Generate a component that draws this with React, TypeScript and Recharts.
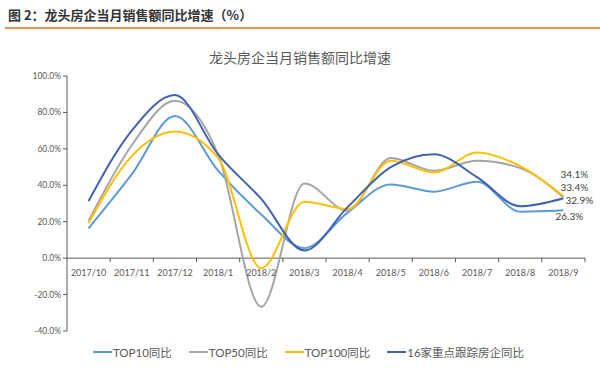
import { LineChart, Line, XAxis, YAxis, ReferenceLine, Legend, LabelList } from 'recharts';

const months = ['2017/10', '2017/11', '2017/12', '2018/1', '2018/2', '2018/3', '2018/4', '2018/5', '2018/6', '2018/7', '2018/8', '2018/9'];
const top10 = [16.4, 46, 78, 48, 24, 5.5, 25, 40.5, 36.5, 42, 25.5, 26.3];
const top50 = [20.5, 62, 86.4, 57, -26.7, 41, 26, 55, 48, 53.5, 49.5, 33.4];
const top100 = [19.3, 56, 69.5, 55, -5.5, 31, 27, 53.5, 47, 58, 50.5, 34.1];
const key16 = [31.3, 70, 89.5, 57, 32.5, 4.2, 28, 50, 57, 44.5, 28.5, 32.9];
const yTicks = [-40, -20, 0, 20, 40, 60, 80, 100];

const series = [
  { key: 'top10', name: 'TOP10同比', color: '#5B9BD5', dx: 6, dy: 7 },
  { key: 'top50', name: 'TOP50同比', color: '#A5A5A5', dx: 11, dy: -9 },
  { key: 'top100', name: 'TOP100同比', color: '#FFC000', dx: 11, dy: -21 },
  { key: 'key16', name: '16家重点跟踪房企同比', color: '#3F63AE', dx: 16, dy: 3 },
];

const data = months.map((m, i) => ({
  month: m,
  top10: top10[i],
  top50: top50[i],
  top100: top100[i],
  key16: key16[i],
}));

// plot box (matches the margins below)
const PLOT_LEFT = 67;
const PLOT_RIGHT = 585;
const PLOT_TOP = 76;
const PLOT_BOTTOM = 331;
const ZERO_Y = PLOT_TOP + (100 / 140) * (PLOT_BOTTOM - PLOT_TOP);
const BAND = (PLOT_RIGHT - PLOT_LEFT) / months.length;

const font = "Lato, 'Noto Sans CJK SC', sans-serif";

const MonthTick = ({ x, payload }: any) => (
  <g>
    <text x={x} y={ZERO_Y + 18} textAnchor="middle" fontSize={9} fill="#595959" fontFamily={font}>
      {payload.value}
    </text>
    <line x1={x + BAND / 2} x2={x + BAND / 2} y1={ZERO_Y} y2={ZERO_Y + 4} stroke="#595959" strokeWidth={1} />
  </g>
);

const LegendRow = () => (
  <div style={{ display: 'flex', justifyContent: 'center', height: 20, alignItems: 'center', paddingLeft: 34 }}>
    {series.map(s => (
      <div key={s.key} style={{ display: 'flex', alignItems: 'center', marginRight: 17 }}>
        <span style={{ display: 'inline-block', width: 19, height: 2, background: s.color, marginRight: 1 }} />
        <span style={{ fontSize: 11.5, color: '#595959', fontFamily: font }}>{s.name}</span>
      </div>
    ))}
  </div>
);

const lastLabel = (dx: number, dy: number) => (props: any) => {
  const { x, y, value, index } = props;
  if (index !== months.length - 1) return null;
  return (
    <text x={x + dx} y={y + dy} textAnchor="middle" dominantBaseline="middle" fontSize={10} fill="#404040" fontFamily={font}>
      {Number(value).toFixed(1)}%
    </text>
  );
};

export default function App() {
  return (
    <div style={{ position: 'absolute', left: 0, top: 0, width: 600, height: 376, background: '#fff', fontFamily: font }}>
      <div style={{ position: 'absolute', left: 8, top: 5, fontSize: 13, fontWeight: 'bold', color: '#333', fontFamily: "'Noto Sans CJK SC', sans-serif" }}>
        图 2：龙头房企当月销售额同比增速（%）
      </div>
      <div style={{ position: 'absolute', left: 5, top: 27, width: 595, height: 2, background: '#E39B55' }} />
      <div style={{ position: 'absolute', left: 0, top: 47, width: 600, textAlign: 'center', fontSize: 14, color: '#595959', fontFamily: "'Noto Sans CJK SC', sans-serif" }}>
        龙头房企当月销售额同比增速
      </div>
      <LineChart width={600} height={376} data={data} margin={{ top: PLOT_TOP, right: 600 - PLOT_RIGHT, left: 7, bottom: 5 }} style={{ position: 'absolute', left: 0, top: 0 }}>
        <XAxis
          dataKey="month"
          axisLine={false}
          tickLine={false}
          height={20}
          tick={<MonthTick />}
          interval={0}
          padding={{ left: BAND / 2, right: BAND / 2 }}
        />
        <YAxis
          width={60}
          domain={[-40, 100]}
          ticks={yTicks}
          tickFormatter={(v: number) => `${v.toFixed(1)}%`}
          tick={{ fontSize: 8.5, fill: '#595959', fontFamily: font }}
          axisLine={{ stroke: '#595959' }}
          tickLine={{ stroke: '#595959' }}
          tickSize={4}
        />
        <ReferenceLine y={0} stroke="#595959" strokeWidth={1} />
        <Legend content={<LegendRow />} wrapperStyle={{ top: 342, left: 0, width: 600 }} height={20} />
        {series.map(s => (
          <Line
            key={s.key}
            type="monotone"
            dataKey={s.key}
            name={s.name}
            stroke={s.color}
            strokeWidth={2}
            dot={false}
            isAnimationActive={false}
          >
            <LabelList dataKey={s.key} content={lastLabel(s.dx, s.dy)} />
          </Line>
        ))}
      </LineChart>
    </div>
  );
}
